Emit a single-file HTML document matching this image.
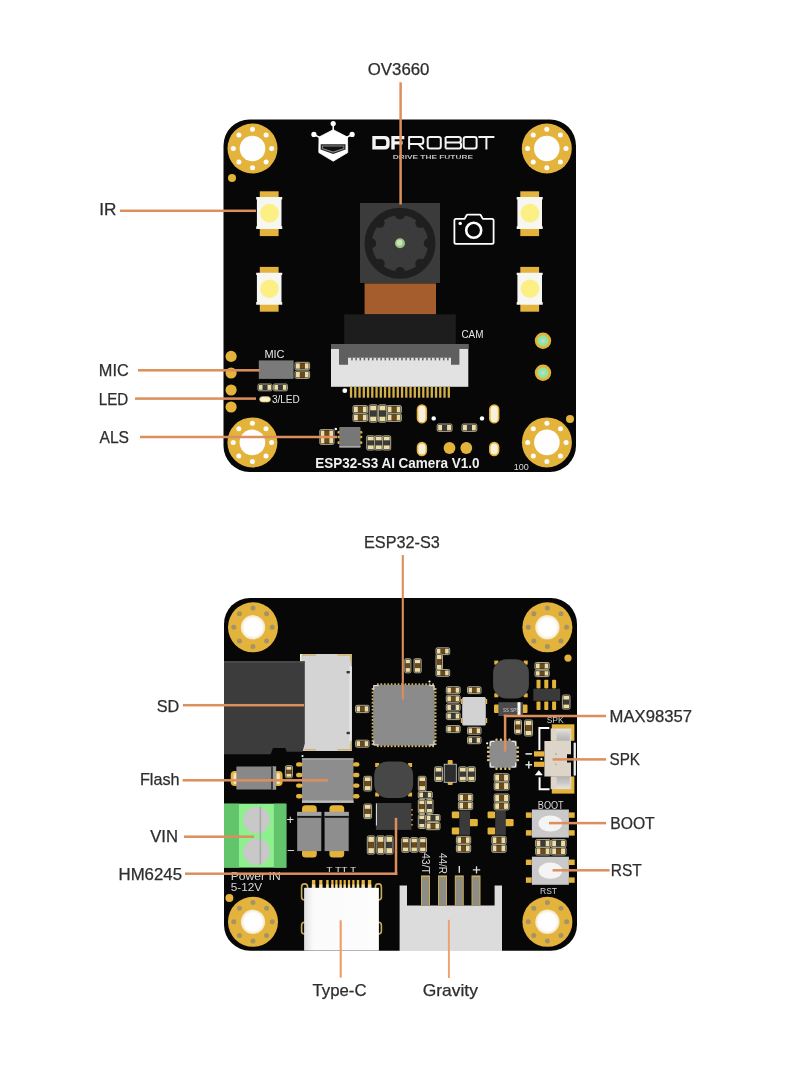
<!DOCTYPE html><html><head><meta charset="utf-8"><style>html,body{margin:0;padding:0;background:#fff;width:810px;height:1080px;overflow:hidden}svg{display:block;will-change:transform}</style></head><body>
<svg width="810" height="1080" viewBox="0 0 810 1080" font-family='"Liberation Sans", sans-serif'>
<defs><radialGradient id="holeg"><stop offset="0" stop-color="#ffffff"/><stop offset="0.72" stop-color="#fefefe"/><stop offset="1" stop-color="#f1e4c0"/></radialGradient></defs>
<rect width="810" height="1080" fill="#ffffff"/>
<rect x="223.5" y="119.5" width="352.5" height="352.4" rx="26" fill="#070707"/>
<circle cx="252.5" cy="148.5" r="25" fill="#e4b33c"/>
<circle cx="252.5" cy="148.5" r="12.8" fill="#fefefe"/>
<circle cx="252.50" cy="167.70" r="2.5" fill="#fdfdfd"/>
<circle cx="238.92" cy="162.08" r="2.5" fill="#fdfdfd"/>
<circle cx="233.30" cy="148.50" r="2.5" fill="#fdfdfd"/>
<circle cx="238.92" cy="134.92" r="2.5" fill="#fdfdfd"/>
<circle cx="252.50" cy="129.30" r="2.5" fill="#fdfdfd"/>
<circle cx="266.08" cy="134.92" r="2.5" fill="#fdfdfd"/>
<circle cx="271.70" cy="148.50" r="2.5" fill="#fdfdfd"/>
<circle cx="266.08" cy="162.08" r="2.5" fill="#fdfdfd"/>
<circle cx="546.8" cy="148.5" r="25" fill="#e4b33c"/>
<circle cx="546.8" cy="148.5" r="12.8" fill="#fefefe"/>
<circle cx="546.80" cy="167.70" r="2.5" fill="#fdfdfd"/>
<circle cx="533.22" cy="162.08" r="2.5" fill="#fdfdfd"/>
<circle cx="527.60" cy="148.50" r="2.5" fill="#fdfdfd"/>
<circle cx="533.22" cy="134.92" r="2.5" fill="#fdfdfd"/>
<circle cx="546.80" cy="129.30" r="2.5" fill="#fdfdfd"/>
<circle cx="560.38" cy="134.92" r="2.5" fill="#fdfdfd"/>
<circle cx="566.00" cy="148.50" r="2.5" fill="#fdfdfd"/>
<circle cx="560.38" cy="162.08" r="2.5" fill="#fdfdfd"/>
<circle cx="252.4" cy="442.4" r="25" fill="#e4b33c"/>
<circle cx="252.4" cy="442.4" r="12.8" fill="#fefefe"/>
<circle cx="252.40" cy="461.60" r="2.5" fill="#fdfdfd"/>
<circle cx="238.82" cy="455.98" r="2.5" fill="#fdfdfd"/>
<circle cx="233.20" cy="442.40" r="2.5" fill="#fdfdfd"/>
<circle cx="238.82" cy="428.82" r="2.5" fill="#fdfdfd"/>
<circle cx="252.40" cy="423.20" r="2.5" fill="#fdfdfd"/>
<circle cx="265.98" cy="428.82" r="2.5" fill="#fdfdfd"/>
<circle cx="271.60" cy="442.40" r="2.5" fill="#fdfdfd"/>
<circle cx="265.98" cy="455.98" r="2.5" fill="#fdfdfd"/>
<circle cx="546.9" cy="442.4" r="25" fill="#e4b33c"/>
<circle cx="546.9" cy="442.4" r="12.8" fill="#fefefe"/>
<circle cx="546.90" cy="461.60" r="2.5" fill="#fdfdfd"/>
<circle cx="533.32" cy="455.98" r="2.5" fill="#fdfdfd"/>
<circle cx="527.70" cy="442.40" r="2.5" fill="#fdfdfd"/>
<circle cx="533.32" cy="428.82" r="2.5" fill="#fdfdfd"/>
<circle cx="546.90" cy="423.20" r="2.5" fill="#fdfdfd"/>
<circle cx="560.48" cy="428.82" r="2.5" fill="#fdfdfd"/>
<circle cx="566.10" cy="442.40" r="2.5" fill="#fdfdfd"/>
<circle cx="560.48" cy="455.98" r="2.5" fill="#fdfdfd"/>
<circle cx="232" cy="178" r="4" fill="#e4b33c"/>
<circle cx="570" cy="419" r="4" fill="#e4b33c"/>
<circle cx="231.1" cy="356.4" r="5.6" fill="#e4b33c"/>
<circle cx="231.1" cy="373" r="5.6" fill="#e4b33c"/>
<circle cx="231.1" cy="390" r="5.6" fill="#e4b33c"/>
<circle cx="231.1" cy="407" r="5.6" fill="#e4b33c"/>
<g fill="#ffffff">
<circle cx="333.2" cy="123.6" r="2.6"/><circle cx="313.9" cy="134.4" r="2.6"/><circle cx="352.1" cy="134.4" r="2.6"/>
<rect x="332.45" y="124" width="1.5" height="7"/>
</g>
<path d="M313.9 134.4 L320.5 138 M352.1 134.4 L345.5 138" stroke="#fff" stroke-width="1.5"/>
<path d="M333.2 129.7 L347.5 137.1 L347.7 152.6 L333.2 161.2 L318.8 152.6 L319 137.1 Z" fill="#fff" stroke="#fff" stroke-width="0.8" stroke-linejoin="round"/>
<path d="M320.7 144.2 L345.5 144.2 L345.5 149.6 L333.2 154 L320.7 149.6 Z" fill="#222"/>
<path d="M321.9 145.4 L344.3 145.4 L344.3 148.9 L333.2 152.8 L321.9 148.9 Z" fill="#8a8a8a"/>
<path d="M322.9 146.4 L343.3 146.4 L343.3 148.3 L333.2 151.6 L322.9 148.3 Z" fill="#111"/>
<path fill-rule="evenodd" fill="#f4f4f4" d="M372.3 136 H384.6 Q389.6 136 389.6 141 V144.4 Q389.6 149.4 384.6 149.4 H372.3 Z M375.7 139.3 H384 Q386.2 139.3 386.2 141.5 V143.9 Q386.2 146.1 384 146.1 H375.7 Z"/>
<path fill="#f4f4f4" d="M391.3 136 H404.3 V139.3 H394.7 V141.3 H402.6 V144.4 H394.7 V149.4 H391.3 Z"/>
<g fill="none" stroke="#f4f4f4" stroke-width="2" stroke-linejoin="round">
<path d="M409.1 149.4 V136.9 H420.8 Q423.3 136.9 423.3 139.4 V141.4 Q423.3 143.9 420.8 143.9 H409.1 M418.2 143.9 L423.6 149.4"/>
<rect x="427.7" y="136.9" width="13.1" height="11.6" rx="2.2"/>
<path d="M445.6 136.9 H458.6 Q460.8 136.9 460.8 139.1 V140.6 Q460.8 142.6 458.8 142.6 H445.6 M445.6 142.6 H458.9 Q461.1 142.6 461.1 144.8 V146.3 Q461.1 148.5 458.9 148.5 H445.6 M445.6 136.9 V148.5"/>
<rect x="463.7" y="136.9" width="12.9" height="11.6" rx="2.2"/>
<path d="M478.4 136.9 H494.4 M486.4 136.9 V149.4"/>
</g>
<text x="392.7" y="158.7" font-size="6" font-weight="bold" fill="#bdbdbd" textLength="80.3" lengthAdjust="spacingAndGlyphs">DRIVE THE FUTURE</text>
<rect x="259.8" y="191.3" width="18.8" height="9" fill="#e4b33c"/>
<rect x="259.8" y="226.8" width="18.8" height="9.3" fill="#e4b33c"/>
<path d="M256.2 197.10000000000002 H282.2 V199.5 H281.5 V226.3 H282.2 V229.10000000000002 H256.2 V226.3 H256.9 V199.5 H256.2 Z" fill="#f6f6f2"/>
<circle cx="269.5" cy="213.10000000000002" r="9.3" fill="#fcef84"/>
<rect x="259.8" y="266.9" width="18.8" height="9" fill="#e4b33c"/>
<rect x="259.8" y="302.4" width="18.8" height="9.3" fill="#e4b33c"/>
<path d="M256.2 272.7 H282.2 V275.09999999999997 H281.5 V301.9 H282.2 V304.7 H256.2 V301.9 H256.9 V275.09999999999997 H256.2 Z" fill="#f6f6f2"/>
<circle cx="269.5" cy="288.7" r="9.3" fill="#fcef84"/>
<rect x="520.3000000000001" y="191.3" width="18.8" height="9" fill="#e4b33c"/>
<rect x="520.3000000000001" y="226.8" width="18.8" height="9.3" fill="#e4b33c"/>
<path d="M516.7 197.10000000000002 H542.7 V199.5 H542.0 V226.3 H542.7 V229.10000000000002 H516.7 V226.3 H517.4000000000001 V199.5 H516.7 Z" fill="#f6f6f2"/>
<circle cx="530.0" cy="213.10000000000002" r="9.3" fill="#fcef84"/>
<rect x="520.3000000000001" y="266.9" width="18.8" height="9" fill="#e4b33c"/>
<rect x="520.3000000000001" y="302.4" width="18.8" height="9.3" fill="#e4b33c"/>
<path d="M516.7 272.7 H542.7 V275.09999999999997 H542.0 V301.9 H542.7 V304.7 H516.7 V301.9 H517.4000000000001 V275.09999999999997 H516.7 Z" fill="#f6f6f2"/>
<circle cx="530.0" cy="288.7" r="9.3" fill="#fcef84"/>
<g fill="none" stroke="#ffffff" stroke-width="1.8" stroke-linejoin="round">
<path d="M456 218.9 H464.6 L466.6 215.3 Q467 214.6 467.8 214.6 H479.6 Q480.4 214.6 480.8 215.3 L482.8 218.9 H492 Q493.6 218.9 493.6 220.5 V242.2 Q493.6 243.8 492 243.8 H456 Q454.4 243.8 454.4 242.2 V220.5 Q454.4 218.9 456 218.9 Z"/>
<circle cx="473.7" cy="230.3" r="7.5" stroke-width="2.6"/>
</g>
<circle cx="460.2" cy="223.4" r="1.7" fill="#fff"/>
<rect x="360" y="203" width="80" height="80" fill="#3b3b3b"/>
<circle cx="400" cy="243.3" r="31.8" fill="none" stroke="#1f1f1f" stroke-width="7.4"/>
<circle cx="400.00" cy="214.50" r="5" fill="#1f1f1f"/>
<circle cx="420.36" cy="222.94" r="5" fill="#1f1f1f"/>
<circle cx="428.80" cy="243.30" r="5" fill="#1f1f1f"/>
<circle cx="420.36" cy="263.66" r="5" fill="#1f1f1f"/>
<circle cx="400.00" cy="272.10" r="5" fill="#1f1f1f"/>
<circle cx="379.64" cy="263.66" r="5" fill="#1f1f1f"/>
<circle cx="371.20" cy="243.30" r="5" fill="#1f1f1f"/>
<circle cx="379.64" cy="222.94" r="5" fill="#1f1f1f"/>
<circle cx="400" cy="243.3" r="5" fill="#9bc08a"/><circle cx="399.5" cy="242.8" r="3" fill="#c9e6b0"/>
<rect x="364.6" y="283.4" width="71.4" height="31" fill="#a65d2d"/>
<rect x="344.2" y="314.4" width="111.6" height="29.8" fill="#1d1d1d"/>
<rect x="331" y="344" width="137.3" height="42.8" fill="#e2e2e2"/>
<rect x="331" y="344" width="137.3" height="5" fill="#5f5f5f"/>
<path d="M339 349 H459.4 V364.8 H451 V357.8 H348 V364.8 H339 Z" fill="#5f5f5f"/>
<rect x="351.20" y="357.6" width="1.5" height="2.8" fill="#5f5f5f"/>
<rect x="355.37" y="357.6" width="1.5" height="2.8" fill="#5f5f5f"/>
<rect x="359.54" y="357.6" width="1.5" height="2.8" fill="#5f5f5f"/>
<rect x="363.71" y="357.6" width="1.5" height="2.8" fill="#5f5f5f"/>
<rect x="367.88" y="357.6" width="1.5" height="2.8" fill="#5f5f5f"/>
<rect x="372.05" y="357.6" width="1.5" height="2.8" fill="#5f5f5f"/>
<rect x="376.22" y="357.6" width="1.5" height="2.8" fill="#5f5f5f"/>
<rect x="380.39" y="357.6" width="1.5" height="2.8" fill="#5f5f5f"/>
<rect x="384.56" y="357.6" width="1.5" height="2.8" fill="#5f5f5f"/>
<rect x="388.73" y="357.6" width="1.5" height="2.8" fill="#5f5f5f"/>
<rect x="392.90" y="357.6" width="1.5" height="2.8" fill="#5f5f5f"/>
<rect x="397.07" y="357.6" width="1.5" height="2.8" fill="#5f5f5f"/>
<rect x="401.24" y="357.6" width="1.5" height="2.8" fill="#5f5f5f"/>
<rect x="405.41" y="357.6" width="1.5" height="2.8" fill="#5f5f5f"/>
<rect x="409.58" y="357.6" width="1.5" height="2.8" fill="#5f5f5f"/>
<rect x="413.75" y="357.6" width="1.5" height="2.8" fill="#5f5f5f"/>
<rect x="417.92" y="357.6" width="1.5" height="2.8" fill="#5f5f5f"/>
<rect x="422.09" y="357.6" width="1.5" height="2.8" fill="#5f5f5f"/>
<rect x="426.26" y="357.6" width="1.5" height="2.8" fill="#5f5f5f"/>
<rect x="430.43" y="357.6" width="1.5" height="2.8" fill="#5f5f5f"/>
<rect x="434.60" y="357.6" width="1.5" height="2.8" fill="#5f5f5f"/>
<rect x="438.77" y="357.6" width="1.5" height="2.8" fill="#5f5f5f"/>
<rect x="442.94" y="357.6" width="1.5" height="2.8" fill="#5f5f5f"/>
<rect x="447.11" y="357.6" width="1.5" height="2.8" fill="#5f5f5f"/>
<text x="461.4" y="338" font-size="10.5" fill="#e6e6e6" textLength="22" lengthAdjust="spacingAndGlyphs">CAM</text>
<rect x="349.90" y="386.8" width="2.3" height="10.9" fill="#d3b048"/>
<rect x="354.15" y="386.8" width="2.3" height="10.9" fill="#d3b048"/>
<rect x="358.40" y="386.8" width="2.3" height="10.9" fill="#d3b048"/>
<rect x="362.65" y="386.8" width="2.3" height="10.9" fill="#d3b048"/>
<rect x="366.90" y="386.8" width="2.3" height="10.9" fill="#d3b048"/>
<rect x="371.15" y="386.8" width="2.3" height="10.9" fill="#d3b048"/>
<rect x="375.40" y="386.8" width="2.3" height="10.9" fill="#d3b048"/>
<rect x="379.65" y="386.8" width="2.3" height="10.9" fill="#d3b048"/>
<rect x="383.90" y="386.8" width="2.3" height="10.9" fill="#d3b048"/>
<rect x="388.15" y="386.8" width="2.3" height="10.9" fill="#d3b048"/>
<rect x="392.40" y="386.8" width="2.3" height="10.9" fill="#d3b048"/>
<rect x="396.65" y="386.8" width="2.3" height="10.9" fill="#d3b048"/>
<rect x="400.90" y="386.8" width="2.3" height="10.9" fill="#d3b048"/>
<rect x="405.15" y="386.8" width="2.3" height="10.9" fill="#d3b048"/>
<rect x="409.40" y="386.8" width="2.3" height="10.9" fill="#d3b048"/>
<rect x="413.65" y="386.8" width="2.3" height="10.9" fill="#d3b048"/>
<rect x="417.90" y="386.8" width="2.3" height="10.9" fill="#d3b048"/>
<rect x="422.15" y="386.8" width="2.3" height="10.9" fill="#d3b048"/>
<rect x="426.40" y="386.8" width="2.3" height="10.9" fill="#d3b048"/>
<rect x="430.65" y="386.8" width="2.3" height="10.9" fill="#d3b048"/>
<rect x="434.90" y="386.8" width="2.3" height="10.9" fill="#d3b048"/>
<rect x="439.15" y="386.8" width="2.3" height="10.9" fill="#d3b048"/>
<rect x="443.40" y="386.8" width="2.3" height="10.9" fill="#d3b048"/>
<rect x="447.65" y="386.8" width="2.3" height="10.9" fill="#d3b048"/>
<circle cx="344.8" cy="390.7" r="2.4" fill="#fff"/>
<text x="264.4" y="357.5" font-size="11" fill="#e6e6e6">MIC</text>
<rect x="258.8" y="360.4" width="34.8" height="18.5" fill="#7a7a7a"/>
<rect x="295" y="362.3" width="14.6" height="7.4" rx="1.3" fill="#2a2416" stroke="#aaa58f" stroke-width="1"/>
<rect x="296" y="363.3" width="3.9059999999999997" height="5.4" fill="#ecdca6"/><rect x="304.694" y="363.3" width="3.9059999999999997" height="5.4" fill="#ecdca6"/>
<rect x="299.906" y="363.3" width="4.788" height="5.4" fill="#6b4a1e"/>
<rect x="295" y="371.0" width="14.6" height="7.4" rx="1.3" fill="#2a2416" stroke="#aaa58f" stroke-width="1"/>
<rect x="296" y="372.0" width="3.9059999999999997" height="5.4" fill="#ecdca6"/><rect x="304.694" y="372.0" width="3.9059999999999997" height="5.4" fill="#ecdca6"/>
<rect x="299.906" y="372.0" width="4.788" height="5.4" fill="#6b4a1e"/>
<rect x="258" y="384" width="14" height="6.8" rx="1.3" fill="#2a2416" stroke="#aaa58f" stroke-width="1"/>
<rect x="259" y="385" width="3.7199999999999998" height="4.8" fill="#ecdca6"/><rect x="267.28" y="385" width="3.7199999999999998" height="4.8" fill="#ecdca6"/>
<rect x="262.72" y="385" width="4.5600000000000005" height="4.8" fill="#3a3a3a"/>
<rect x="273.4" y="384" width="14" height="6.8" rx="1.3" fill="#2a2416" stroke="#aaa58f" stroke-width="1"/>
<rect x="274.4" y="385" width="3.7199999999999998" height="4.8" fill="#ecdca6"/><rect x="282.67999999999995" y="385" width="3.7199999999999998" height="4.8" fill="#ecdca6"/>
<rect x="278.12" y="385" width="4.5600000000000005" height="4.8" fill="#3a3a3a"/>
<rect x="259.7" y="396.7" width="10.7" height="5.2" rx="2.6" fill="#f5f0d8" stroke="#e6c45a" stroke-width="0.8"/>
<text x="271.9" y="402.6" font-size="10" fill="#e6e6e6">3/LED</text>
<rect x="353" y="405.6" width="14.6" height="7.6" rx="1.3" fill="#2a2416" stroke="#aaa58f" stroke-width="1"/>
<rect x="354" y="406.6" width="3.9059999999999997" height="5.6" fill="#ecdca6"/><rect x="362.694" y="406.6" width="3.9059999999999997" height="5.6" fill="#ecdca6"/>
<rect x="357.906" y="406.6" width="4.788" height="5.6" fill="#6b4a1e"/>
<rect x="353" y="413.8" width="14.6" height="7.6" rx="1.3" fill="#2a2416" stroke="#aaa58f" stroke-width="1"/>
<rect x="354" y="414.8" width="3.9059999999999997" height="5.6" fill="#ecdca6"/><rect x="362.694" y="414.8" width="3.9059999999999997" height="5.6" fill="#ecdca6"/>
<rect x="357.906" y="414.8" width="4.788" height="5.6" fill="#6b4a1e"/>
<rect x="369.2" y="404.8" width="8" height="17.4" rx="1.3" fill="#2a2416" stroke="#aaa58f" stroke-width="1"/>
<rect x="370.2" y="405.8" width="6" height="4.773999999999999" fill="#ecdca6"/><rect x="370.2" y="416.426" width="6" height="4.773999999999999" fill="#ecdca6"/>
<rect x="370.2" y="410.574" width="6" height="5.852" fill="#3a3a3a"/>
<rect x="378.4" y="404.8" width="8" height="17.4" rx="1.3" fill="#2a2416" stroke="#aaa58f" stroke-width="1"/>
<rect x="379.4" y="405.8" width="6" height="4.773999999999999" fill="#ecdca6"/><rect x="379.4" y="416.426" width="6" height="4.773999999999999" fill="#ecdca6"/>
<rect x="379.4" y="410.574" width="6" height="5.852" fill="#3a3a3a"/>
<rect x="386.8" y="405.6" width="14.6" height="7.6" rx="1.3" fill="#2a2416" stroke="#aaa58f" stroke-width="1"/>
<rect x="387.8" y="406.6" width="3.9059999999999997" height="5.6" fill="#ecdca6"/><rect x="396.494" y="406.6" width="3.9059999999999997" height="5.6" fill="#ecdca6"/>
<rect x="391.706" y="406.6" width="4.788" height="5.6" fill="#6b4a1e"/>
<rect x="386.8" y="413.8" width="14.6" height="7.6" rx="1.3" fill="#2a2416" stroke="#aaa58f" stroke-width="1"/>
<rect x="387.8" y="414.8" width="3.9059999999999997" height="5.6" fill="#ecdca6"/><rect x="396.494" y="414.8" width="3.9059999999999997" height="5.6" fill="#ecdca6"/>
<rect x="391.706" y="414.8" width="4.788" height="5.6" fill="#6b4a1e"/>
<rect x="337.4" y="431.0" width="3.5" height="2.6" rx="1.2" fill="#e4b33c"/><rect x="358.9" y="431.0" width="3.5" height="2.6" rx="1.2" fill="#e4b33c"/>
<rect x="337.4" y="435.7" width="3.5" height="2.6" rx="1.2" fill="#e4b33c"/><rect x="358.9" y="435.7" width="3.5" height="2.6" rx="1.2" fill="#e4b33c"/>
<rect x="337.4" y="441.3" width="3.5" height="2.6" rx="1.2" fill="#e4b33c"/><rect x="358.9" y="441.3" width="3.5" height="2.6" rx="1.2" fill="#e4b33c"/>
<rect x="339.3" y="426.9" width="21.2" height="20.6" rx="0.8" fill="#777777"/>
<rect x="339.3" y="446" width="21.2" height="1.5" fill="#aaaaaa"/>
<circle cx="335.8" cy="429" r="1.3" fill="#fff"/>
<rect x="319.8" y="429.6" width="14.2" height="7.4" rx="1.3" fill="#2a2416" stroke="#aaa58f" stroke-width="1"/>
<rect x="320.8" y="430.6" width="3.7819999999999996" height="5.4" fill="#ecdca6"/><rect x="329.218" y="430.6" width="3.7819999999999996" height="5.4" fill="#ecdca6"/>
<rect x="324.582" y="430.6" width="4.636" height="5.4" fill="#6b4a1e"/>
<rect x="319.8" y="437" width="14.2" height="7.4" rx="1.3" fill="#2a2416" stroke="#aaa58f" stroke-width="1"/>
<rect x="320.8" y="438" width="3.7819999999999996" height="5.4" fill="#ecdca6"/><rect x="329.218" y="438" width="3.7819999999999996" height="5.4" fill="#ecdca6"/>
<rect x="324.582" y="438" width="4.636" height="5.4" fill="#6b4a1e"/>
<rect x="366.7" y="435.8" width="8" height="14.2" rx="1.3" fill="#2a2416" stroke="#aaa58f" stroke-width="1"/>
<rect x="367.7" y="436.8" width="6" height="3.7819999999999996" fill="#ecdca6"/><rect x="367.7" y="445.218" width="6" height="3.7819999999999996" fill="#ecdca6"/>
<rect x="367.7" y="440.582" width="6" height="4.636" fill="#3a3a3a"/>
<rect x="374.7" y="435.8" width="8" height="14.2" rx="1.3" fill="#2a2416" stroke="#aaa58f" stroke-width="1"/>
<rect x="375.7" y="436.8" width="6" height="3.7819999999999996" fill="#ecdca6"/><rect x="375.7" y="445.218" width="6" height="3.7819999999999996" fill="#ecdca6"/>
<rect x="375.7" y="440.582" width="6" height="4.636" fill="#3a3a3a"/>
<rect x="382.7" y="435.8" width="8" height="14.2" rx="1.3" fill="#2a2416" stroke="#aaa58f" stroke-width="1"/>
<rect x="383.7" y="436.8" width="6" height="3.7819999999999996" fill="#ecdca6"/><rect x="383.7" y="445.218" width="6" height="3.7819999999999996" fill="#ecdca6"/>
<rect x="383.7" y="440.582" width="6" height="4.636" fill="#3a3a3a"/>
<rect x="417.5" y="405.0" width="8.8" height="17.8" rx="4.4" fill="#f7f1dc" stroke="#e4b33c" stroke-width="1.6"/>
<rect x="489.8" y="405.0" width="8.8" height="17.8" rx="4.4" fill="#f7f1dc" stroke="#e4b33c" stroke-width="1.6"/>
<rect x="417.5" y="442.6" width="8.8" height="12.8" rx="4.4" fill="#f7f1dc" stroke="#e4b33c" stroke-width="1.6"/>
<rect x="489.8" y="442.6" width="8.8" height="12.8" rx="4.4" fill="#f7f1dc" stroke="#e4b33c" stroke-width="1.6"/>
<circle cx="433.7" cy="418.4" r="2.2" fill="#fff"/>
<circle cx="482" cy="418.4" r="2.2" fill="#fff"/>
<rect x="437.2" y="424" width="14.8" height="7.4" rx="1.3" fill="#2a2416" stroke="#aaa58f" stroke-width="1"/>
<rect x="438.2" y="425" width="3.968" height="5.4" fill="#ecdca6"/><rect x="447.032" y="425" width="3.968" height="5.4" fill="#ecdca6"/>
<rect x="442.168" y="425" width="4.864000000000001" height="5.4" fill="#3a3a3a"/>
<rect x="462" y="424" width="14.8" height="7.4" rx="1.3" fill="#2a2416" stroke="#aaa58f" stroke-width="1"/>
<rect x="463" y="425" width="3.968" height="5.4" fill="#ecdca6"/><rect x="471.832" y="425" width="3.968" height="5.4" fill="#ecdca6"/>
<rect x="466.968" y="425" width="4.864000000000001" height="5.4" fill="#3a3a3a"/>
<circle cx="449.5" cy="448" r="5.9" fill="#e4b33c"/>
<circle cx="466.3" cy="448" r="5.9" fill="#e4b33c"/>
<circle cx="543" cy="340.7" r="8.2" fill="#e4b33c"/><circle cx="543" cy="340.7" r="5.4" fill="#8ee6a4"/><circle cx="543" cy="340.7" r="2" fill="#c8d8c8"/>
<circle cx="543" cy="372.8" r="8.2" fill="#e4b33c"/><circle cx="543" cy="372.8" r="5.4" fill="#8ee6a4"/><circle cx="543" cy="372.8" r="2" fill="#c8d8c8"/>
<text x="315.2" y="468" font-size="13.8" font-weight="bold" fill="#f0f0f0" textLength="164.4" lengthAdjust="spacingAndGlyphs">ESP32-S3 AI Camera V1.0</text>
<text x="513.7" y="469.5" font-size="9" fill="#d8d8d8">100</text>
<text x="398.6" y="75.2" font-size="15.9" fill="#2e2e2e" stroke="#2e2e2e" stroke-width="0.25" text-anchor="middle" textLength="61.6" lengthAdjust="spacingAndGlyphs">OV3660</text>
<rect x="399.35" y="82.3" width="2.5" height="122.2" fill="#dc8f5c"/>
<text x="99.2" y="215" font-size="15.9" fill="#2e2e2e" stroke="#2e2e2e" stroke-width="0.25" text-anchor="start" textLength="17.2" lengthAdjust="spacingAndGlyphs">IR</text>
<rect x="120" y="209.55" width="136" height="2.5" fill="#dc8f5c"/>
<text x="98.8" y="376.4" font-size="15.9" fill="#2e2e2e" stroke="#2e2e2e" stroke-width="0.25" text-anchor="start" textLength="30" lengthAdjust="spacingAndGlyphs">MIC</text>
<rect x="138" y="369.05" width="121.5" height="2.5" fill="#dc8f5c"/>
<text x="98.8" y="405.2" font-size="15.9" fill="#2e2e2e" stroke="#2e2e2e" stroke-width="0.25" text-anchor="start" textLength="29.5" lengthAdjust="spacingAndGlyphs">LED</text>
<rect x="135" y="397.35" width="121" height="2.5" fill="#dc8f5c"/>
<text x="99.5" y="443.4" font-size="15.9" fill="#2e2e2e" stroke="#2e2e2e" stroke-width="0.25" text-anchor="start" textLength="29.5" lengthAdjust="spacingAndGlyphs">ALS</text>
<rect x="140" y="435.75" width="197" height="2.5" fill="#dc8f5c"/>
<rect x="224" y="598" width="353" height="352.7" rx="26" fill="#070707"/>
<circle cx="253" cy="627.3" r="25" fill="#e4b33c"/>
<circle cx="253" cy="627.3" r="12.2" fill="url(#holeg)"/>
<circle cx="253.00" cy="646.50" r="2.5" fill="#a39366"/>
<circle cx="239.42" cy="640.88" r="2.5" fill="#a39366"/>
<circle cx="233.80" cy="627.30" r="2.5" fill="#a39366"/>
<circle cx="239.42" cy="613.72" r="2.5" fill="#a39366"/>
<circle cx="253.00" cy="608.10" r="2.5" fill="#a39366"/>
<circle cx="266.58" cy="613.72" r="2.5" fill="#a39366"/>
<circle cx="272.20" cy="627.30" r="2.5" fill="#a39366"/>
<circle cx="266.58" cy="640.88" r="2.5" fill="#a39366"/>
<circle cx="547.4" cy="627.3" r="25" fill="#e4b33c"/>
<circle cx="547.4" cy="627.3" r="12.2" fill="url(#holeg)"/>
<circle cx="547.40" cy="646.50" r="2.5" fill="#a39366"/>
<circle cx="533.82" cy="640.88" r="2.5" fill="#a39366"/>
<circle cx="528.20" cy="627.30" r="2.5" fill="#a39366"/>
<circle cx="533.82" cy="613.72" r="2.5" fill="#a39366"/>
<circle cx="547.40" cy="608.10" r="2.5" fill="#a39366"/>
<circle cx="560.98" cy="613.72" r="2.5" fill="#a39366"/>
<circle cx="566.60" cy="627.30" r="2.5" fill="#a39366"/>
<circle cx="560.98" cy="640.88" r="2.5" fill="#a39366"/>
<circle cx="253" cy="921.8" r="25" fill="#e4b33c"/>
<circle cx="253" cy="921.8" r="12.2" fill="url(#holeg)"/>
<circle cx="253.00" cy="941.00" r="2.5" fill="#a39366"/>
<circle cx="239.42" cy="935.38" r="2.5" fill="#a39366"/>
<circle cx="233.80" cy="921.80" r="2.5" fill="#a39366"/>
<circle cx="239.42" cy="908.22" r="2.5" fill="#a39366"/>
<circle cx="253.00" cy="902.60" r="2.5" fill="#a39366"/>
<circle cx="266.58" cy="908.22" r="2.5" fill="#a39366"/>
<circle cx="272.20" cy="921.80" r="2.5" fill="#a39366"/>
<circle cx="266.58" cy="935.38" r="2.5" fill="#a39366"/>
<circle cx="547.4" cy="921.8" r="25" fill="#e4b33c"/>
<circle cx="547.4" cy="921.8" r="12.2" fill="url(#holeg)"/>
<circle cx="547.40" cy="941.00" r="2.5" fill="#a39366"/>
<circle cx="533.82" cy="935.38" r="2.5" fill="#a39366"/>
<circle cx="528.20" cy="921.80" r="2.5" fill="#a39366"/>
<circle cx="533.82" cy="908.22" r="2.5" fill="#a39366"/>
<circle cx="547.40" cy="902.60" r="2.5" fill="#a39366"/>
<circle cx="560.98" cy="908.22" r="2.5" fill="#a39366"/>
<circle cx="566.60" cy="921.80" r="2.5" fill="#a39366"/>
<circle cx="560.98" cy="935.38" r="2.5" fill="#a39366"/>
<circle cx="568" cy="658.1" r="3.6" fill="#e4b33c"/>
<circle cx="229.4" cy="898" r="4" fill="#e4b33c"/>
<rect x="300.1" y="654" width="51.7" height="97" fill="#d4d4d4"/>
<path d="M301.5 660 V655 H316 M337.5 655 H351 V662 M304.5 749.8 H316 M337.5 749.8 H351 V743" fill="none" stroke="#cdb46a" stroke-width="1.6"/>
<rect x="300.1" y="654" width="1.6" height="7" fill="#f5f5f5"/>
<rect x="349.4" y="666.3" width="2.4" height="74.5" fill="#e6e6e6"/>
<rect x="346.6" y="671" width="3.2" height="2.4" fill="#333"/><rect x="346.6" y="731.8" width="3.2" height="2.4" fill="#333"/>
<path d="M224 661.3 H304.8 V743.5 L302.5 751.8 H286.7 L285.4 748 H273 L270.6 754.3 H224 Z" fill="#3c3c3c"/>
<rect x="224" y="661.3" width="80.8" height="1.2" fill="#555"/>
<rect x="355.6" y="705.3" width="13.4" height="7.3" rx="1.3" fill="#2a2416" stroke="#aaa58f" stroke-width="1"/>
<rect x="356.6" y="706.3" width="3.5340000000000003" height="5.3" fill="#ecdca6"/><rect x="364.466" y="706.3" width="3.5340000000000003" height="5.3" fill="#ecdca6"/>
<rect x="360.134" y="706.3" width="4.332" height="5.3" fill="#6b4a1e"/>
<rect x="355.6" y="740.2" width="13.4" height="7.0" rx="1.3" fill="#2a2416" stroke="#aaa58f" stroke-width="1"/>
<rect x="356.6" y="741.2" width="3.5340000000000003" height="5.0" fill="#ecdca6"/><rect x="364.466" y="741.2" width="3.5340000000000003" height="5.0" fill="#ecdca6"/>
<rect x="360.134" y="741.2" width="4.332" height="5.0" fill="#6b4a1e"/>
<rect x="376.90" y="683.2" width="1.9" height="2.6" rx="0.7" fill="#cfb25a"/><rect x="376.90" y="744.6" width="1.9" height="2.6" rx="0.7" fill="#cfb25a"/>
<rect x="371.6" y="688.00" width="2.6" height="1.9" rx="0.7" fill="#cfb25a"/><rect x="434" y="688.00" width="2.6" height="1.9" rx="0.7" fill="#cfb25a"/>
<rect x="380.35" y="683.2" width="1.9" height="2.6" rx="0.7" fill="#cfb25a"/><rect x="380.35" y="744.6" width="1.9" height="2.6" rx="0.7" fill="#cfb25a"/>
<rect x="371.6" y="691.45" width="2.6" height="1.9" rx="0.7" fill="#cfb25a"/><rect x="434" y="691.45" width="2.6" height="1.9" rx="0.7" fill="#cfb25a"/>
<rect x="383.80" y="683.2" width="1.9" height="2.6" rx="0.7" fill="#cfb25a"/><rect x="383.80" y="744.6" width="1.9" height="2.6" rx="0.7" fill="#cfb25a"/>
<rect x="371.6" y="694.90" width="2.6" height="1.9" rx="0.7" fill="#cfb25a"/><rect x="434" y="694.90" width="2.6" height="1.9" rx="0.7" fill="#cfb25a"/>
<rect x="387.25" y="683.2" width="1.9" height="2.6" rx="0.7" fill="#cfb25a"/><rect x="387.25" y="744.6" width="1.9" height="2.6" rx="0.7" fill="#cfb25a"/>
<rect x="371.6" y="698.35" width="2.6" height="1.9" rx="0.7" fill="#cfb25a"/><rect x="434" y="698.35" width="2.6" height="1.9" rx="0.7" fill="#cfb25a"/>
<rect x="390.70" y="683.2" width="1.9" height="2.6" rx="0.7" fill="#cfb25a"/><rect x="390.70" y="744.6" width="1.9" height="2.6" rx="0.7" fill="#cfb25a"/>
<rect x="371.6" y="701.80" width="2.6" height="1.9" rx="0.7" fill="#cfb25a"/><rect x="434" y="701.80" width="2.6" height="1.9" rx="0.7" fill="#cfb25a"/>
<rect x="394.15" y="683.2" width="1.9" height="2.6" rx="0.7" fill="#cfb25a"/><rect x="394.15" y="744.6" width="1.9" height="2.6" rx="0.7" fill="#cfb25a"/>
<rect x="371.6" y="705.25" width="2.6" height="1.9" rx="0.7" fill="#cfb25a"/><rect x="434" y="705.25" width="2.6" height="1.9" rx="0.7" fill="#cfb25a"/>
<rect x="397.60" y="683.2" width="1.9" height="2.6" rx="0.7" fill="#cfb25a"/><rect x="397.60" y="744.6" width="1.9" height="2.6" rx="0.7" fill="#cfb25a"/>
<rect x="371.6" y="708.70" width="2.6" height="1.9" rx="0.7" fill="#cfb25a"/><rect x="434" y="708.70" width="2.6" height="1.9" rx="0.7" fill="#cfb25a"/>
<rect x="401.05" y="683.2" width="1.9" height="2.6" rx="0.7" fill="#cfb25a"/><rect x="401.05" y="744.6" width="1.9" height="2.6" rx="0.7" fill="#cfb25a"/>
<rect x="371.6" y="712.15" width="2.6" height="1.9" rx="0.7" fill="#cfb25a"/><rect x="434" y="712.15" width="2.6" height="1.9" rx="0.7" fill="#cfb25a"/>
<rect x="404.50" y="683.2" width="1.9" height="2.6" rx="0.7" fill="#cfb25a"/><rect x="404.50" y="744.6" width="1.9" height="2.6" rx="0.7" fill="#cfb25a"/>
<rect x="371.6" y="715.60" width="2.6" height="1.9" rx="0.7" fill="#cfb25a"/><rect x="434" y="715.60" width="2.6" height="1.9" rx="0.7" fill="#cfb25a"/>
<rect x="407.95" y="683.2" width="1.9" height="2.6" rx="0.7" fill="#cfb25a"/><rect x="407.95" y="744.6" width="1.9" height="2.6" rx="0.7" fill="#cfb25a"/>
<rect x="371.6" y="719.05" width="2.6" height="1.9" rx="0.7" fill="#cfb25a"/><rect x="434" y="719.05" width="2.6" height="1.9" rx="0.7" fill="#cfb25a"/>
<rect x="411.40" y="683.2" width="1.9" height="2.6" rx="0.7" fill="#cfb25a"/><rect x="411.40" y="744.6" width="1.9" height="2.6" rx="0.7" fill="#cfb25a"/>
<rect x="371.6" y="722.50" width="2.6" height="1.9" rx="0.7" fill="#cfb25a"/><rect x="434" y="722.50" width="2.6" height="1.9" rx="0.7" fill="#cfb25a"/>
<rect x="414.85" y="683.2" width="1.9" height="2.6" rx="0.7" fill="#cfb25a"/><rect x="414.85" y="744.6" width="1.9" height="2.6" rx="0.7" fill="#cfb25a"/>
<rect x="371.6" y="725.95" width="2.6" height="1.9" rx="0.7" fill="#cfb25a"/><rect x="434" y="725.95" width="2.6" height="1.9" rx="0.7" fill="#cfb25a"/>
<rect x="418.30" y="683.2" width="1.9" height="2.6" rx="0.7" fill="#cfb25a"/><rect x="418.30" y="744.6" width="1.9" height="2.6" rx="0.7" fill="#cfb25a"/>
<rect x="371.6" y="729.40" width="2.6" height="1.9" rx="0.7" fill="#cfb25a"/><rect x="434" y="729.40" width="2.6" height="1.9" rx="0.7" fill="#cfb25a"/>
<rect x="421.75" y="683.2" width="1.9" height="2.6" rx="0.7" fill="#cfb25a"/><rect x="421.75" y="744.6" width="1.9" height="2.6" rx="0.7" fill="#cfb25a"/>
<rect x="371.6" y="732.85" width="2.6" height="1.9" rx="0.7" fill="#cfb25a"/><rect x="434" y="732.85" width="2.6" height="1.9" rx="0.7" fill="#cfb25a"/>
<rect x="425.20" y="683.2" width="1.9" height="2.6" rx="0.7" fill="#cfb25a"/><rect x="425.20" y="744.6" width="1.9" height="2.6" rx="0.7" fill="#cfb25a"/>
<rect x="371.6" y="736.30" width="2.6" height="1.9" rx="0.7" fill="#cfb25a"/><rect x="434" y="736.30" width="2.6" height="1.9" rx="0.7" fill="#cfb25a"/>
<rect x="428.65" y="683.2" width="1.9" height="2.6" rx="0.7" fill="#cfb25a"/><rect x="428.65" y="744.6" width="1.9" height="2.6" rx="0.7" fill="#cfb25a"/>
<rect x="371.6" y="739.75" width="2.6" height="1.9" rx="0.7" fill="#cfb25a"/><rect x="434" y="739.75" width="2.6" height="1.9" rx="0.7" fill="#cfb25a"/>
<rect x="432.10" y="683.2" width="1.9" height="2.6" rx="0.7" fill="#cfb25a"/><rect x="432.10" y="744.6" width="1.9" height="2.6" rx="0.7" fill="#cfb25a"/>
<rect x="371.6" y="743.20" width="2.6" height="1.9" rx="0.7" fill="#cfb25a"/><rect x="434" y="743.20" width="2.6" height="1.9" rx="0.7" fill="#cfb25a"/>
<rect x="373.2" y="685" width="61.4" height="60.4" fill="#8b8b8b"/>
<path d="M373.8 690 V685.6 H378.5 M434 690 V685.6 H429.5 M373.8 740.6 V745 H378.5 M434 740.6 V745 H429.5" fill="none" stroke="#e8e8e8" stroke-width="1"/>
<circle cx="429.5" cy="681.5" r="1.1" fill="#fff"/>
<rect x="404.8" y="658.7" width="6.1" height="14.1" rx="1.3" fill="#2a2416" stroke="#aaa58f" stroke-width="1"/>
<rect x="405.8" y="659.7" width="4.1" height="3.751" fill="#ecdca6"/><rect x="405.8" y="668.0490000000001" width="4.1" height="3.751" fill="#ecdca6"/>
<rect x="405.8" y="663.451" width="4.1" height="4.598" fill="#6b4a1e"/>
<rect x="414" y="658.7" width="7.2" height="14.1" rx="1.3" fill="#2a2416" stroke="#aaa58f" stroke-width="1"/>
<rect x="415" y="659.7" width="5.2" height="3.751" fill="#ecdca6"/><rect x="415" y="668.0490000000001" width="5.2" height="3.751" fill="#ecdca6"/>
<rect x="415" y="663.451" width="5.2" height="4.598" fill="#6b4a1e"/>
<rect x="436" y="647.8" width="13.7" height="6.8" rx="1.3" fill="#2a2416" stroke="#aaa58f" stroke-width="1"/>
<rect x="437" y="648.8" width="3.627" height="4.8" fill="#ecdca6"/><rect x="445.073" y="648.8" width="3.627" height="4.8" fill="#ecdca6"/>
<rect x="440.627" y="648.8" width="4.446" height="4.8" fill="#6b4a1e"/>
<rect x="436" y="654" width="6.5" height="16" rx="1.3" fill="#2a2416" stroke="#aaa58f" stroke-width="1"/>
<rect x="437" y="655" width="4.5" height="4.34" fill="#ecdca6"/><rect x="437" y="664.66" width="4.5" height="4.34" fill="#ecdca6"/>
<rect x="437" y="659.34" width="4.5" height="5.32" fill="#6b4a1e"/>
<rect x="436" y="669.5" width="13.7" height="6.8" rx="1.3" fill="#2a2416" stroke="#aaa58f" stroke-width="1"/>
<rect x="437" y="670.5" width="3.627" height="4.8" fill="#ecdca6"/><rect x="445.073" y="670.5" width="3.627" height="4.8" fill="#ecdca6"/>
<rect x="440.627" y="670.5" width="4.446" height="4.8" fill="#6b4a1e"/>
<rect x="446.3" y="686.7" width="13.8" height="7" rx="1.3" fill="#2a2416" stroke="#aaa58f" stroke-width="1"/>
<rect x="447.3" y="687.7" width="3.6580000000000004" height="5" fill="#ecdca6"/><rect x="455.442" y="687.7" width="3.6580000000000004" height="5" fill="#ecdca6"/>
<rect x="450.958" y="687.7" width="4.484" height="5" fill="#6b4a1e"/>
<rect x="446.3" y="695.3" width="13.8" height="7" rx="1.3" fill="#2a2416" stroke="#aaa58f" stroke-width="1"/>
<rect x="447.3" y="696.3" width="3.6580000000000004" height="5" fill="#ecdca6"/><rect x="455.442" y="696.3" width="3.6580000000000004" height="5" fill="#ecdca6"/>
<rect x="450.958" y="696.3" width="4.484" height="5" fill="#6b4a1e"/>
<rect x="446.3" y="704" width="13.8" height="7" rx="1.3" fill="#2a2416" stroke="#aaa58f" stroke-width="1"/>
<rect x="447.3" y="705" width="3.6580000000000004" height="5" fill="#ecdca6"/><rect x="455.442" y="705" width="3.6580000000000004" height="5" fill="#ecdca6"/>
<rect x="450.958" y="705" width="4.484" height="5" fill="#3a3a3a"/>
<rect x="446.3" y="712.6" width="13.8" height="7" rx="1.3" fill="#2a2416" stroke="#aaa58f" stroke-width="1"/>
<rect x="447.3" y="713.6" width="3.6580000000000004" height="5" fill="#ecdca6"/><rect x="455.442" y="713.6" width="3.6580000000000004" height="5" fill="#ecdca6"/>
<rect x="450.958" y="713.6" width="4.484" height="5" fill="#3a3a3a"/>
<rect x="446.3" y="725.6" width="13.8" height="7" rx="1.3" fill="#2a2416" stroke="#aaa58f" stroke-width="1"/>
<rect x="447.3" y="726.6" width="3.6580000000000004" height="5" fill="#ecdca6"/><rect x="455.442" y="726.6" width="3.6580000000000004" height="5" fill="#ecdca6"/>
<rect x="450.958" y="726.6" width="4.484" height="5" fill="#6b4a1e"/>
<rect x="462.2" y="697" width="23.6" height="28.5" rx="1.5" fill="#d2d2d2"/>
<rect x="460.8" y="699" width="1.4" height="5" fill="#e4b33c"/><rect x="485.8" y="699" width="1.4" height="5" fill="#e4b33c"/><rect x="460.8" y="718" width="1.4" height="5" fill="#e4b33c"/><rect x="485.8" y="718" width="1.4" height="5" fill="#e4b33c"/>
<rect x="467.5" y="686.7" width="13.5" height="6.9" rx="1.3" fill="#2a2416" stroke="#aaa58f" stroke-width="1"/>
<rect x="468.5" y="687.7" width="3.565" height="4.9" fill="#ecdca6"/><rect x="476.435" y="687.7" width="3.565" height="4.9" fill="#ecdca6"/>
<rect x="472.065" y="687.7" width="4.37" height="4.9" fill="#6b4a1e"/>
<rect x="467.5" y="727.3" width="13.5" height="6.9" rx="1.3" fill="#2a2416" stroke="#aaa58f" stroke-width="1"/>
<rect x="468.5" y="728.3" width="3.565" height="4.9" fill="#ecdca6"/><rect x="476.435" y="728.3" width="3.565" height="4.9" fill="#ecdca6"/>
<rect x="472.065" y="728.3" width="4.37" height="4.9" fill="#6b4a1e"/>
<rect x="467.5" y="736.8" width="13.5" height="6.9" rx="1.3" fill="#2a2416" stroke="#aaa58f" stroke-width="1"/>
<rect x="468.5" y="737.8" width="3.565" height="4.9" fill="#ecdca6"/><rect x="476.435" y="737.8" width="3.565" height="4.9" fill="#ecdca6"/>
<rect x="472.065" y="737.8" width="4.37" height="4.9" fill="#3a3a3a"/>
<rect x="494.3" y="660.6" width="4" height="4" fill="#e4b33c"/>
<rect x="523.7" y="660.6" width="4" height="4" fill="#e4b33c"/>
<rect x="494.3" y="693.3" width="4" height="4" fill="#e4b33c"/>
<rect x="523.7" y="693.3" width="4" height="4" fill="#e4b33c"/>
<rect x="493.1" y="659.2" width="35.8" height="39.2" rx="13.5" fill="#4a4a4a"/>
<rect x="535" y="662.5" width="14.2" height="6.9" rx="1.3" fill="#2a2416" stroke="#aaa58f" stroke-width="1"/>
<rect x="536" y="663.5" width="3.7819999999999996" height="4.9" fill="#ecdca6"/><rect x="544.418" y="663.5" width="3.7819999999999996" height="4.9" fill="#ecdca6"/>
<rect x="539.782" y="663.5" width="4.636" height="4.9" fill="#6b4a1e"/>
<rect x="535" y="670.2" width="14.2" height="6.4" rx="1.3" fill="#2a2416" stroke="#aaa58f" stroke-width="1"/>
<rect x="536" y="671.2" width="3.7819999999999996" height="4.4" fill="#ecdca6"/><rect x="544.418" y="671.2" width="3.7819999999999996" height="4.4" fill="#ecdca6"/>
<rect x="539.782" y="671.2" width="4.636" height="4.4" fill="#6b4a1e"/>
<rect x="536.5" y="679.8" width="4" height="8.6" rx="0.8" fill="#e4b33c"/><rect x="536.5" y="701.4" width="4" height="8.6" rx="0.8" fill="#e4b33c"/>
<rect x="544.3" y="679.8" width="4" height="8.6" rx="0.8" fill="#e4b33c"/><rect x="544.3" y="701.4" width="4" height="8.6" rx="0.8" fill="#e4b33c"/>
<rect x="552.1" y="679.8" width="4" height="8.6" rx="0.8" fill="#e4b33c"/><rect x="552.1" y="701.4" width="4" height="8.6" rx="0.8" fill="#e4b33c"/>
<rect x="533.3" y="688.7" width="26.8" height="12.1" fill="#3a3a3a"/>
<rect x="562.4" y="695" width="7.6" height="14.1" rx="1.3" fill="#2a2416" stroke="#aaa58f" stroke-width="1"/>
<rect x="563.4" y="696" width="5.6" height="3.751" fill="#ecdca6"/><rect x="563.4" y="704.349" width="5.6" height="3.751" fill="#ecdca6"/>
<rect x="563.4" y="699.751" width="5.6" height="4.598" fill="#3a3a3a"/>
<rect x="494" y="704.5" width="6" height="8.5" rx="1" fill="#e4b33c"/><rect x="521.5" y="704.5" width="6" height="8.5" rx="1" fill="#e4b33c"/>
<rect x="498.4" y="702.2" width="24.6" height="13.8" fill="#4a4a4a"/>
<rect x="517.5" y="702.2" width="3" height="13.8" fill="#ffffff"/>
<text x="503" y="711.5" font-size="4.5" fill="#ccc">SS  SPS</text>
<rect x="514.5" y="720" width="7" height="14" rx="1.3" fill="#2a2416" stroke="#aaa58f" stroke-width="1"/>
<rect x="515.5" y="721" width="5" height="3.7199999999999998" fill="#ecdca6"/><rect x="515.5" y="729.28" width="5" height="3.7199999999999998" fill="#ecdca6"/>
<rect x="515.5" y="724.72" width="5" height="4.5600000000000005" fill="#6b4a1e"/>
<rect x="524.5" y="720" width="8" height="16" rx="1.3" fill="#2a2416" stroke="#aaa58f" stroke-width="1"/>
<rect x="525.5" y="721" width="6" height="4.34" fill="#ecdca6"/><rect x="525.5" y="730.66" width="6" height="4.34" fill="#ecdca6"/>
<rect x="525.5" y="725.34" width="6" height="5.32" fill="#6b4a1e"/>
<rect x="495.4" y="738.6" width="2.2" height="3.6" rx="0.8" fill="#d9c278"/><rect x="495.4" y="766.4" width="2.2" height="3.6" rx="0.8" fill="#d9c278"/>
<rect x="499.79999999999995" y="738.6" width="2.2" height="3.6" rx="0.8" fill="#d9c278"/><rect x="499.79999999999995" y="766.4" width="2.2" height="3.6" rx="0.8" fill="#d9c278"/>
<rect x="504.2" y="738.6" width="2.2" height="3.6" rx="0.8" fill="#d9c278"/><rect x="504.2" y="766.4" width="2.2" height="3.6" rx="0.8" fill="#d9c278"/>
<rect x="508.4" y="738.6" width="2.2" height="3.6" rx="0.8" fill="#d9c278"/><rect x="508.4" y="766.4" width="2.2" height="3.6" rx="0.8" fill="#d9c278"/>
<rect x="486.9" y="746.6" width="3.6" height="2.2" rx="0.8" fill="#d9c278"/><rect x="515.5" y="746.6" width="3.6" height="2.2" rx="0.8" fill="#d9c278"/>
<rect x="486.9" y="750.8" width="3.6" height="2.2" rx="0.8" fill="#d9c278"/><rect x="515.5" y="750.8" width="3.6" height="2.2" rx="0.8" fill="#d9c278"/>
<rect x="486.9" y="755.1999999999999" width="3.6" height="2.2" rx="0.8" fill="#d9c278"/><rect x="515.5" y="755.1999999999999" width="3.6" height="2.2" rx="0.8" fill="#d9c278"/>
<rect x="486.9" y="759.1" width="3.6" height="2.2" rx="0.8" fill="#d9c278"/><rect x="515.5" y="759.1" width="3.6" height="2.2" rx="0.8" fill="#d9c278"/>
<rect x="489.5" y="740.7" width="27" height="27" fill="#8c8c8c"/>
<path d="M490.2 746 V743.5 Q490.2 741.4 492.3 741.4 H494.5 M515.8 746 V743.5 Q515.8 741.4 513.7 741.4 H511.5 M490.2 762.4 V764.9 Q490.2 767 492.3 767 H494.5 M515.8 762.4 V764.9 Q515.8 767 513.7 767 H511.5" fill="none" stroke="#ececec" stroke-width="1.2"/>
<circle cx="487.2" cy="743.3" r="1.1" fill="#fff"/>
<defs><linearGradient id="spkg" x1="0" x2="0" y1="0" y2="1"><stop offset="0" stop-color="#e8e4dc"/><stop offset="0.5" stop-color="#c8c8c8"/><stop offset="1" stop-color="#b4b4b4"/></linearGradient><linearGradient id="spkg2" x1="0" x2="0" y1="1" y2="0"><stop offset="0" stop-color="#e8e4dc"/><stop offset="0.5" stop-color="#c8c8c8"/><stop offset="1" stop-color="#b4b4b4"/></linearGradient></defs>
<rect x="551.8" y="724.3" width="22.6" height="16.5" fill="#e4b33c"/><rect x="551.8" y="776.5" width="22.6" height="17.1" fill="#e4b33c"/>
<rect x="550.7" y="728.4" width="20.7" height="12.4" fill="#ddd5ca"/><rect x="556.6" y="729" width="13" height="11.5" fill="url(#spkg)"/>
<rect x="550.7" y="776.5" width="20.7" height="12.7" fill="#ddd5ca"/><rect x="556.6" y="777" width="13" height="11.5" fill="url(#spkg2)"/>
<path d="M544.4 741 H571 V754.3 H567 V762.4 H571 V776.5 H544.4 Z" fill="#ddd5ca"/>
<path d="M549.3 728 H539.4 V749.9 M549.5 789.2 H539.6 V777.3" fill="none" stroke="#fff" stroke-width="2"/>
<rect x="573.6" y="742.4" width="2.3" height="33.4" rx="1" fill="#ececec"/>
<rect x="534" y="751.3" width="10.4" height="5.2" fill="#e4b33c"/><rect x="534" y="761.7" width="10.4" height="5.2" fill="#e4b33c"/>
<circle cx="555.9" cy="753.9" r="0.9" fill="#b0a898"/><circle cx="555.9" cy="764.3" r="0.9" fill="#b0a898"/><circle cx="541.4" cy="759.1" r="1.1" fill="#fff"/>
<path d="M535.3 775 L538.8 770.6 L542.3 775 Z" fill="#fff" stroke="#fff" stroke-width="0.6" stroke-linejoin="round"/>
<rect x="525.5" y="753.1" width="6.6" height="1.6" fill="#e0e0e0"/><path d="M528.8 761.3 V768.4 M525.5 764.8 H532.1" stroke="#e0e0e0" stroke-width="1.5"/>
<text x="546.7" y="723" font-size="8.5" fill="#cfcfcf">SPK</text>
<text x="537.8" y="808.9" font-size="10" fill="#d8d8d8" textLength="25.9" lengthAdjust="spacingAndGlyphs">BOOT</text>
<rect x="525.9" y="812.4" width="5.8" height="5.4" fill="#e4b33c"/>
<rect x="568.9" y="812.4" width="5.8" height="5.4" fill="#e4b33c"/>
<rect x="525.9" y="830.2" width="5.8" height="5.4" fill="#e4b33c"/>
<rect x="568.9" y="830.2" width="5.8" height="5.4" fill="#e4b33c"/>
<rect x="531.9" y="809.5" width="37" height="28.1" fill="#c9c9c9"/>
<ellipse cx="550.4" cy="823.5" rx="11.9" ry="8.1" fill="#f4f4f4"/>
<rect x="525.9" y="859.6" width="5.8" height="5.4" fill="#e4b33c"/>
<rect x="568.9" y="859.6" width="5.8" height="5.4" fill="#e4b33c"/>
<rect x="525.9" y="877.4000000000001" width="5.8" height="5.4" fill="#e4b33c"/>
<rect x="568.9" y="877.4000000000001" width="5.8" height="5.4" fill="#e4b33c"/>
<rect x="531.9" y="856.7" width="37" height="28.1" fill="#c9c9c9"/>
<ellipse cx="550.4" cy="870.7" rx="11.9" ry="8.1" fill="#f4f4f4"/>
<text x="540" y="893.7" font-size="9" fill="#d0d0d0" textLength="17" lengthAdjust="spacingAndGlyphs">RST</text>
<rect x="535.6" y="839.6" width="14.8" height="7.6" rx="1.3" fill="#2a2416" stroke="#aaa58f" stroke-width="1"/>
<rect x="536.6" y="840.6" width="3.968" height="5.6" fill="#ecdca6"/><rect x="545.432" y="840.6" width="3.968" height="5.6" fill="#ecdca6"/>
<rect x="540.568" y="840.6" width="4.864000000000001" height="5.6" fill="#3a3a3a"/>
<rect x="535.6" y="847.4" width="14.8" height="7.6" rx="1.3" fill="#2a2416" stroke="#aaa58f" stroke-width="1"/>
<rect x="536.6" y="848.4" width="3.968" height="5.6" fill="#ecdca6"/><rect x="545.432" y="848.4" width="3.968" height="5.6" fill="#ecdca6"/>
<rect x="540.568" y="848.4" width="4.864000000000001" height="5.6" fill="#6b4a1e"/>
<rect x="551.2" y="839.6" width="14.8" height="7.6" rx="1.3" fill="#2a2416" stroke="#aaa58f" stroke-width="1"/>
<rect x="552.2" y="840.6" width="3.968" height="5.6" fill="#ecdca6"/><rect x="561.032" y="840.6" width="3.968" height="5.6" fill="#ecdca6"/>
<rect x="556.168" y="840.6" width="4.864000000000001" height="5.6" fill="#3a3a3a"/>
<rect x="551.2" y="847.4" width="14.8" height="7.6" rx="1.3" fill="#2a2416" stroke="#aaa58f" stroke-width="1"/>
<rect x="552.2" y="848.4" width="3.968" height="5.6" fill="#ecdca6"/><rect x="561.032" y="848.4" width="3.968" height="5.6" fill="#ecdca6"/>
<rect x="556.168" y="848.4" width="4.864000000000001" height="5.6" fill="#6b4a1e"/>
<rect x="302" y="758.3" width="51.5" height="44.5" fill="#8d8d8d"/>
<rect x="302" y="800.5" width="51.5" height="2.3" fill="#bdbdbd"/><rect x="302" y="758.3" width="51.5" height="1.5" fill="#a8a8a8"/>
<rect x="296" y="762.1999999999999" width="6.5" height="4.4" rx="2.2" fill="#e4b33c"/><rect x="353" y="762.1999999999999" width="6.5" height="4.4" rx="2.2" fill="#e4b33c"/>
<rect x="296" y="772.8" width="6.5" height="4.4" rx="2.2" fill="#e4b33c"/><rect x="353" y="772.8" width="6.5" height="4.4" rx="2.2" fill="#e4b33c"/>
<rect x="296" y="783.4" width="6.5" height="4.4" rx="2.2" fill="#e4b33c"/><rect x="353" y="783.4" width="6.5" height="4.4" rx="2.2" fill="#e4b33c"/>
<rect x="296" y="794.0999999999999" width="6.5" height="4.4" rx="2.2" fill="#e4b33c"/><rect x="353" y="794.0999999999999" width="6.5" height="4.4" rx="2.2" fill="#e4b33c"/>
<circle cx="302.5" cy="756" r="1.1" fill="#fff"/>
<rect x="230.7" y="771" width="9" height="15" rx="4" fill="#e4b33c"/><rect x="273.6" y="771" width="9" height="15" rx="4" fill="#e4b33c"/>
<rect x="233.5" y="773" width="3.4" height="11" rx="1.5" fill="#f2e6b8"/><rect x="276.5" y="773" width="3.4" height="11" rx="1.5" fill="#f2e6b8"/>
<rect x="236.4" y="766.5" width="39.7" height="23" fill="#888888"/>
<rect x="272.5" y="766.5" width="3.6" height="23" fill="#9a9a9a"/><rect x="271.2" y="766.5" width="1.6" height="23" fill="#2a2a2a"/>
<rect x="285.4" y="765.7" width="7" height="12.1" rx="1.3" fill="#2a2416" stroke="#aaa58f" stroke-width="1"/>
<rect x="286.4" y="766.7" width="5" height="3.131" fill="#ecdca6"/><rect x="286.4" y="773.6690000000001" width="5" height="3.131" fill="#ecdca6"/>
<rect x="286.4" y="769.831" width="5" height="3.838" fill="#6b4a1e"/>
<rect x="224" y="803.7" width="62.3" height="63.9" fill="#8ef08c"/>
<rect x="224" y="803.7" width="15" height="63.9" fill="#62c56b"/><rect x="273.9" y="803.7" width="12.4" height="63.9" fill="#62c56b"/>
<circle cx="256.7" cy="820" r="13.3" fill="#c8c8c8"/><circle cx="256.7" cy="851.9" r="13.3" fill="#c8c8c8"/>
<rect x="259.6" y="806.7" width="1.6" height="58" fill="#a8a8a8"/>
<text x="286.5" y="824" font-size="13" fill="#e0e0e0">+</text><text x="287" y="855" font-size="13" fill="#e0e0e0">−</text>
<rect x="302.0" y="805.2" width="14.8" height="9" rx="3.5" fill="#e4b33c"/><rect x="302.0" y="848.4" width="14.8" height="9" rx="3.5" fill="#e4b33c"/>
<rect x="297.2" y="811.9" width="24.1" height="39.2" fill="#8e8e8e"/><rect x="297.2" y="811.9" width="24.1" height="4" fill="#a2a2a2"/><rect x="297.2" y="815.9" width="24.1" height="1.9" fill="#151515"/>
<rect x="329.40000000000003" y="805.2" width="14.8" height="9" rx="3.5" fill="#e4b33c"/><rect x="329.40000000000003" y="848.4" width="14.8" height="9" rx="3.5" fill="#e4b33c"/>
<rect x="324.6" y="811.9" width="24.1" height="39.2" fill="#8e8e8e"/><rect x="324.6" y="811.9" width="24.1" height="4" fill="#a2a2a2"/><rect x="324.6" y="815.9" width="24.1" height="1.9" fill="#151515"/>
<text x="230.7" y="879.6" font-size="11.5" fill="#d6d6d6" textLength="50" lengthAdjust="spacingAndGlyphs">Power IN</text>
<text x="230.7" y="891.1" font-size="11.5" fill="#d6d6d6" textLength="31.5" lengthAdjust="spacingAndGlyphs">5-12V</text>
<rect x="375.2" y="763" width="4" height="4" fill="#e4b33c"/>
<rect x="408.1" y="763" width="4" height="4" fill="#e4b33c"/>
<rect x="375.2" y="792.5" width="4" height="4" fill="#e4b33c"/>
<rect x="408.1" y="792.5" width="4" height="4" fill="#e4b33c"/>
<rect x="374.2" y="761.6" width="38.9" height="36.3" rx="13.5" fill="#474747"/>
<rect x="375.9" y="803" width="35.5" height="26.9" fill="#3f3f3f"/>
<rect x="375.9" y="803.5" width="1" height="22" fill="#e8e8e8"/>
<rect x="411.3" y="809" width="1.4" height="1.6" fill="#e4b33c"/>
<rect x="411.3" y="814" width="1.4" height="1.6" fill="#e4b33c"/>
<rect x="411.3" y="819" width="1.4" height="1.6" fill="#e4b33c"/>
<rect x="411.3" y="824" width="1.4" height="1.6" fill="#e4b33c"/>
<rect x="363.8" y="776.3" width="7.8" height="14.7" rx="1.3" fill="#2a2416" stroke="#aaa58f" stroke-width="1"/>
<rect x="364.8" y="777.3" width="5.8" height="3.937" fill="#ecdca6"/><rect x="364.8" y="786.063" width="5.8" height="3.937" fill="#ecdca6"/>
<rect x="364.8" y="781.237" width="5.8" height="4.826" fill="#6b4a1e"/>
<rect x="363.8" y="804" width="7.8" height="14.6" rx="1.3" fill="#2a2416" stroke="#aaa58f" stroke-width="1"/>
<rect x="364.8" y="805" width="5.8" height="3.9059999999999997" fill="#ecdca6"/><rect x="364.8" y="813.6940000000001" width="5.8" height="3.9059999999999997" fill="#ecdca6"/>
<rect x="364.8" y="808.906" width="5.8" height="4.788" fill="#6b4a1e"/>
<rect x="418.3" y="776.3" width="7.7" height="14.7" rx="1.3" fill="#2a2416" stroke="#aaa58f" stroke-width="1"/>
<rect x="419.3" y="777.3" width="5.7" height="3.937" fill="#ecdca6"/><rect x="419.3" y="786.063" width="5.7" height="3.937" fill="#ecdca6"/>
<rect x="419.3" y="781.237" width="5.7" height="4.826" fill="#6b4a1e"/>
<rect x="418.3" y="791.5" width="14" height="6.8" rx="1.3" fill="#2a2416" stroke="#aaa58f" stroke-width="1"/>
<rect x="419.3" y="792.5" width="3.7199999999999998" height="4.8" fill="#ecdca6"/><rect x="427.58" y="792.5" width="3.7199999999999998" height="4.8" fill="#ecdca6"/>
<rect x="423.02000000000004" y="792.5" width="4.5600000000000005" height="4.8" fill="#3a3a3a"/>
<rect x="418.3" y="799.5" width="7" height="14" rx="1.3" fill="#2a2416" stroke="#aaa58f" stroke-width="1"/>
<rect x="419.3" y="800.5" width="5" height="3.7199999999999998" fill="#ecdca6"/><rect x="419.3" y="808.78" width="5" height="3.7199999999999998" fill="#ecdca6"/>
<rect x="419.3" y="804.22" width="5" height="4.5600000000000005" fill="#6b4a1e"/>
<rect x="426" y="799.5" width="7" height="14" rx="1.3" fill="#2a2416" stroke="#aaa58f" stroke-width="1"/>
<rect x="427" y="800.5" width="5" height="3.7199999999999998" fill="#ecdca6"/><rect x="427" y="808.78" width="5" height="3.7199999999999998" fill="#ecdca6"/>
<rect x="427" y="804.22" width="5" height="4.5600000000000005" fill="#3a3a3a"/>
<rect x="418.3" y="814.5" width="7" height="14" rx="1.3" fill="#2a2416" stroke="#aaa58f" stroke-width="1"/>
<rect x="419.3" y="815.5" width="5" height="3.7199999999999998" fill="#ecdca6"/><rect x="419.3" y="823.78" width="5" height="3.7199999999999998" fill="#ecdca6"/>
<rect x="419.3" y="819.22" width="5" height="4.5600000000000005" fill="#3a3a3a"/>
<rect x="426" y="814.5" width="14" height="6.8" rx="1.3" fill="#2a2416" stroke="#aaa58f" stroke-width="1"/>
<rect x="427" y="815.5" width="3.7199999999999998" height="4.8" fill="#ecdca6"/><rect x="435.28" y="815.5" width="3.7199999999999998" height="4.8" fill="#ecdca6"/>
<rect x="430.72" y="815.5" width="4.5600000000000005" height="4.8" fill="#3a3a3a"/>
<rect x="426" y="822.5" width="14" height="7.2" rx="1.3" fill="#2a2416" stroke="#aaa58f" stroke-width="1"/>
<rect x="427" y="823.5" width="3.7199999999999998" height="5.2" fill="#ecdca6"/><rect x="435.28" y="823.5" width="3.7199999999999998" height="5.2" fill="#ecdca6"/>
<rect x="430.72" y="823.5" width="4.5600000000000005" height="5.2" fill="#6b4a1e"/>
<rect x="367.3" y="835.9" width="7.6" height="18.2" rx="1.3" fill="#2a2416" stroke="#aaa58f" stroke-width="1"/>
<rect x="368.3" y="836.9" width="5.6" height="5.021999999999999" fill="#ecdca6"/><rect x="368.3" y="848.078" width="5.6" height="5.021999999999999" fill="#ecdca6"/>
<rect x="368.3" y="841.922" width="5.6" height="6.156000000000001" fill="#6b4a1e"/>
<rect x="376.8" y="835.9" width="7.6" height="18.2" rx="1.3" fill="#2a2416" stroke="#aaa58f" stroke-width="1"/>
<rect x="377.8" y="836.9" width="5.6" height="5.021999999999999" fill="#ecdca6"/><rect x="377.8" y="848.078" width="5.6" height="5.021999999999999" fill="#ecdca6"/>
<rect x="377.8" y="841.922" width="5.6" height="6.156000000000001" fill="#6b4a1e"/>
<rect x="385.4" y="835.9" width="7.6" height="18.2" rx="1.3" fill="#2a2416" stroke="#aaa58f" stroke-width="1"/>
<rect x="386.4" y="836.9" width="5.6" height="5.021999999999999" fill="#ecdca6"/><rect x="386.4" y="848.078" width="5.6" height="5.021999999999999" fill="#ecdca6"/>
<rect x="386.4" y="841.922" width="5.6" height="6.156000000000001" fill="#3a3a3a"/>
<rect x="401.8" y="837.6" width="7.4" height="14.7" rx="1.3" fill="#2a2416" stroke="#aaa58f" stroke-width="1"/>
<rect x="402.8" y="838.6" width="5.4" height="3.937" fill="#ecdca6"/><rect x="402.8" y="847.363" width="5.4" height="3.937" fill="#ecdca6"/>
<rect x="402.8" y="842.537" width="5.4" height="4.826" fill="#6b4a1e"/>
<rect x="410.5" y="837.6" width="7.4" height="14.7" rx="1.3" fill="#2a2416" stroke="#aaa58f" stroke-width="1"/>
<rect x="411.5" y="838.6" width="5.4" height="3.937" fill="#ecdca6"/><rect x="411.5" y="847.363" width="5.4" height="3.937" fill="#ecdca6"/>
<rect x="411.5" y="842.537" width="5.4" height="4.826" fill="#6b4a1e"/>
<rect x="419.1" y="837.6" width="7.4" height="14.7" rx="1.3" fill="#2a2416" stroke="#aaa58f" stroke-width="1"/>
<rect x="420.1" y="838.6" width="5.4" height="3.937" fill="#ecdca6"/><rect x="420.1" y="847.363" width="5.4" height="3.937" fill="#ecdca6"/>
<rect x="420.1" y="842.537" width="5.4" height="4.826" fill="#6b4a1e"/>
<rect x="447.7" y="760" width="5" height="4.5" rx="1" fill="#e4b33c"/><rect x="447.7" y="780.5" width="5" height="4.5" rx="1" fill="#e4b33c"/>
<rect x="444.2" y="764.2" width="12.1" height="18.1" fill="#2d2d2d" stroke="#cfcfcf" stroke-width="0.8"/>
<rect x="434.7" y="766.8" width="7.8" height="14.7" rx="1.3" fill="#2a2416" stroke="#aaa58f" stroke-width="1"/>
<rect x="435.7" y="767.8" width="5.8" height="3.937" fill="#ecdca6"/><rect x="435.7" y="776.563" width="5.8" height="3.937" fill="#ecdca6"/>
<rect x="435.7" y="771.737" width="5.8" height="4.826" fill="#3a3a3a"/>
<rect x="458.9" y="766.8" width="7.8" height="14.7" rx="1.3" fill="#2a2416" stroke="#aaa58f" stroke-width="1"/>
<rect x="459.9" y="767.8" width="5.8" height="3.937" fill="#ecdca6"/><rect x="459.9" y="776.563" width="5.8" height="3.937" fill="#ecdca6"/>
<rect x="459.9" y="771.737" width="5.8" height="4.826" fill="#3a3a3a"/>
<rect x="467.5" y="766.8" width="7.8" height="14.7" rx="1.3" fill="#2a2416" stroke="#aaa58f" stroke-width="1"/>
<rect x="468.5" y="767.8" width="5.8" height="3.937" fill="#ecdca6"/><rect x="468.5" y="776.563" width="5.8" height="3.937" fill="#ecdca6"/>
<rect x="468.5" y="771.737" width="5.8" height="4.826" fill="#3a3a3a"/>
<rect x="458.4" y="793.8" width="14.3" height="7.6" rx="1.3" fill="#2a2416" stroke="#aaa58f" stroke-width="1"/>
<rect x="459.4" y="794.8" width="3.813" height="5.6" fill="#ecdca6"/><rect x="467.887" y="794.8" width="3.813" height="5.6" fill="#ecdca6"/>
<rect x="463.21299999999997" y="794.8" width="4.674" height="5.6" fill="#6b4a1e"/>
<rect x="458.4" y="801.8" width="14.3" height="7.8" rx="1.3" fill="#2a2416" stroke="#aaa58f" stroke-width="1"/>
<rect x="459.4" y="802.8" width="3.813" height="5.8" fill="#ecdca6"/><rect x="467.887" y="802.8" width="3.813" height="5.8" fill="#ecdca6"/>
<rect x="463.21299999999997" y="802.8" width="4.674" height="5.8" fill="#6b4a1e"/>
<rect x="451.79999999999995" y="811.4" width="7.6" height="6.8" rx="1.2" fill="#e4b33c"/><rect x="451.79999999999995" y="827.4" width="7.6" height="7" rx="1.2" fill="#e4b33c"/>
<rect x="469.0" y="819" width="8.8" height="7.2" rx="1.2" fill="#e4b33c"/>
<rect x="459.4" y="810.7" width="10.6" height="24.2" fill="#3a3a3a"/>
<rect x="487.59999999999997" y="811.4" width="7.6" height="6.8" rx="1.2" fill="#e4b33c"/><rect x="487.59999999999997" y="827.4" width="7.6" height="7" rx="1.2" fill="#e4b33c"/>
<rect x="504.8" y="819" width="8.8" height="7.2" rx="1.2" fill="#e4b33c"/>
<rect x="495.2" y="810.7" width="10.6" height="24.2" fill="#3a3a3a"/>
<rect x="456.4" y="836.3" width="14.3" height="7.6" rx="1.3" fill="#2a2416" stroke="#aaa58f" stroke-width="1"/>
<rect x="457.4" y="837.3" width="3.813" height="5.6" fill="#ecdca6"/><rect x="465.887" y="837.3" width="3.813" height="5.6" fill="#ecdca6"/>
<rect x="461.21299999999997" y="837.3" width="4.674" height="5.6" fill="#6b4a1e"/>
<rect x="456.4" y="844.6" width="14.3" height="7.6" rx="1.3" fill="#2a2416" stroke="#aaa58f" stroke-width="1"/>
<rect x="457.4" y="845.6" width="3.813" height="5.6" fill="#ecdca6"/><rect x="465.887" y="845.6" width="3.813" height="5.6" fill="#ecdca6"/>
<rect x="461.21299999999997" y="845.6" width="4.674" height="5.6" fill="#6b4a1e"/>
<rect x="491.8" y="836.3" width="14.3" height="7.8" rx="1.3" fill="#2a2416" stroke="#aaa58f" stroke-width="1"/>
<rect x="492.8" y="837.3" width="3.813" height="5.8" fill="#ecdca6"/><rect x="501.28700000000003" y="837.3" width="3.813" height="5.8" fill="#ecdca6"/>
<rect x="496.613" y="837.3" width="4.674" height="5.8" fill="#6b4a1e"/>
<rect x="491.8" y="844.5" width="14.3" height="7.8" rx="1.3" fill="#2a2416" stroke="#aaa58f" stroke-width="1"/>
<rect x="492.8" y="845.5" width="3.813" height="5.8" fill="#ecdca6"/><rect x="501.28700000000003" y="845.5" width="3.813" height="5.8" fill="#ecdca6"/>
<rect x="496.613" y="845.5" width="4.674" height="5.8" fill="#6b4a1e"/>
<rect x="494.2" y="773.7" width="14.8" height="8" rx="1.3" fill="#2a2416" stroke="#aaa58f" stroke-width="1"/>
<rect x="495.2" y="774.7" width="3.968" height="6" fill="#ecdca6"/><rect x="504.032" y="774.7" width="3.968" height="6" fill="#ecdca6"/>
<rect x="499.168" y="774.7" width="4.864000000000001" height="6" fill="#6b4a1e"/>
<rect x="494.2" y="782.1" width="14.8" height="8" rx="1.3" fill="#2a2416" stroke="#aaa58f" stroke-width="1"/>
<rect x="495.2" y="783.1" width="3.968" height="6" fill="#ecdca6"/><rect x="504.032" y="783.1" width="3.968" height="6" fill="#ecdca6"/>
<rect x="499.168" y="783.1" width="4.864000000000001" height="6" fill="#6b4a1e"/>
<rect x="494.2" y="794" width="14.8" height="8" rx="1.3" fill="#2a2416" stroke="#aaa58f" stroke-width="1"/>
<rect x="495.2" y="795" width="3.968" height="6" fill="#ecdca6"/><rect x="504.032" y="795" width="3.968" height="6" fill="#ecdca6"/>
<rect x="499.168" y="795" width="4.864000000000001" height="6" fill="#6b4a1e"/>
<rect x="494.2" y="802.3" width="14.8" height="7.6" rx="1.3" fill="#2a2416" stroke="#aaa58f" stroke-width="1"/>
<rect x="495.2" y="803.3" width="3.968" height="5.6" fill="#ecdca6"/><rect x="504.032" y="803.3" width="3.968" height="5.6" fill="#ecdca6"/>
<rect x="499.168" y="803.3" width="4.864000000000001" height="5.6" fill="#6b4a1e"/>
<rect x="311.90" y="880" width="3.4" height="8.5" fill="#e4b33c"/><rect x="311.90" y="884.5" width="3.4" height="4" fill="#f0e2b0"/>
<rect x="319.20" y="880" width="3.2" height="8.5" fill="#e4b33c"/><rect x="319.20" y="884.5" width="3.2" height="4" fill="#f0e2b0"/>
<rect x="326.20" y="880" width="2.4" height="8.5" fill="#e4b33c"/><rect x="326.20" y="884.5" width="2.4" height="4" fill="#f0e2b0"/>
<rect x="331.30" y="880" width="2.2" height="8.5" fill="#e4b33c"/><rect x="331.30" y="884.5" width="2.2" height="4" fill="#f0e2b0"/>
<rect x="335.30" y="880" width="2.2" height="8.5" fill="#e4b33c"/><rect x="335.30" y="884.5" width="2.2" height="4" fill="#f0e2b0"/>
<rect x="339.50" y="880" width="2.2" height="8.5" fill="#e4b33c"/><rect x="339.50" y="884.5" width="2.2" height="4" fill="#f0e2b0"/>
<rect x="343.60" y="880" width="2.2" height="8.5" fill="#e4b33c"/><rect x="343.60" y="884.5" width="2.2" height="4" fill="#f0e2b0"/>
<rect x="347.90" y="880" width="2.2" height="8.5" fill="#e4b33c"/><rect x="347.90" y="884.5" width="2.2" height="4" fill="#f0e2b0"/>
<rect x="352.30" y="880" width="2.2" height="8.5" fill="#e4b33c"/><rect x="352.30" y="884.5" width="2.2" height="4" fill="#f0e2b0"/>
<rect x="356.80" y="880" width="2.4" height="8.5" fill="#e4b33c"/><rect x="356.80" y="884.5" width="2.4" height="4" fill="#f0e2b0"/>
<rect x="361.60" y="880" width="3.2" height="8.5" fill="#e4b33c"/><rect x="361.60" y="884.5" width="3.2" height="4" fill="#f0e2b0"/>
<rect x="367.90" y="880" width="3.4" height="8.5" fill="#e4b33c"/><rect x="367.90" y="884.5" width="3.4" height="4" fill="#f0e2b0"/>
<rect x="301.6" y="883.9" width="6" height="16" rx="3" fill="none" stroke="#c9ad55" stroke-width="1.6"/><rect x="301.6" y="922.2" width="6" height="11.7" rx="3" fill="none" stroke="#c9ad55" stroke-width="1.6"/>
<rect x="375.4" y="883.9" width="6" height="16" rx="3" fill="none" stroke="#c9ad55" stroke-width="1.6"/><rect x="375.4" y="922.2" width="6" height="11.7" rx="3" fill="none" stroke="#c9ad55" stroke-width="1.6"/>
<defs><linearGradient id="usbg" x1="0" x2="1" y1="0" y2="0"><stop offset="0" stop-color="#dedede"/><stop offset="0.12" stop-color="#fbfbfb"/><stop offset="1" stop-color="#fdfdfd"/></linearGradient></defs>
<rect x="304.1" y="887.8" width="74.8" height="62.8" fill="url(#usbg)"/>
<text x="326.3" y="872.2" font-size="7" fill="#e0e0e0" textLength="30" lengthAdjust="spacingAndGlyphs">T TT T</text>
<path d="M399.6 885.6 H407 V905.6 H494.6 V885.6 H502 V951 H399.6 Z" fill="#dcdcdc"/>
<rect x="421" y="875.4" width="9" height="30.2" fill="#c9aa4e"/><rect x="422" y="877" width="7" height="28.6" fill="#8d8c86"/>
<rect x="438" y="875.4" width="9" height="30.2" fill="#c9aa4e"/><rect x="439" y="877" width="7" height="28.6" fill="#8d8c86"/>
<rect x="454.8" y="875.4" width="9" height="30.2" fill="#c9aa4e"/><rect x="455.8" y="877" width="7" height="28.6" fill="#8d8c86"/>
<rect x="471.5" y="875.4" width="9" height="30.2" fill="#c9aa4e"/><rect x="472.5" y="877" width="7" height="28.6" fill="#8d8c86"/>
<text transform="translate(421.8,853) rotate(90)" font-size="10.5" fill="#dcdcdc" textLength="21" lengthAdjust="spacingAndGlyphs">43/T</text>
<text transform="translate(438.6,853) rotate(90)" font-size="10.5" fill="#dcdcdc" textLength="21" lengthAdjust="spacingAndGlyphs">44/R</text>
<rect x="458.6" y="866" width="1.4" height="6.8" fill="#dcdcdc"/>
<path d="M476.5 866.2 V873.6 M472.8 869.9 H480.2" stroke="#dcdcdc" stroke-width="1.3"/>
<text x="401.9" y="548.4" font-size="15.9" fill="#2e2e2e" stroke="#2e2e2e" stroke-width="0.25" text-anchor="middle" textLength="75.8" lengthAdjust="spacingAndGlyphs">ESP32-S3</text>
<rect x="401.75" y="555" width="2.1" height="144.60000000000002" fill="#dc8f5c"/>
<text x="179.2" y="712" font-size="15.9" fill="#2e2e2e" stroke="#2e2e2e" stroke-width="0.25" text-anchor="end" textLength="22.5" lengthAdjust="spacingAndGlyphs">SD</text>
<rect x="183" y="703.95" width="121" height="2.5" fill="#dc8f5c"/>
<text x="179.5" y="785.2" font-size="15.9" fill="#2e2e2e" stroke="#2e2e2e" stroke-width="0.25" text-anchor="end" textLength="39.6" lengthAdjust="spacingAndGlyphs">Flash</text>
<rect x="182.6" y="779.05" width="145.4" height="2.5" fill="#dc8f5c"/>
<text x="178" y="842.3" font-size="15.9" fill="#2e2e2e" stroke="#2e2e2e" stroke-width="0.25" text-anchor="end" textLength="27.8" lengthAdjust="spacingAndGlyphs">VIN</text>
<rect x="184" y="835.45" width="70" height="2.5" fill="#dc8f5c"/>
<text x="182" y="880.1" font-size="15.9" fill="#2e2e2e" stroke="#2e2e2e" stroke-width="0.25" text-anchor="end" textLength="63.5" lengthAdjust="spacingAndGlyphs">HM6245</text>
<rect x="185" y="872.45" width="212.3" height="2.5" fill="#dc8f5c"/>
<rect x="394.75" y="817.8" width="2.5" height="57.200000000000045" fill="#dc8f5c"/>
<text x="609.5" y="721.8" font-size="15.9" fill="#2e2e2e" stroke="#2e2e2e" stroke-width="0.25" text-anchor="start" textLength="82.5" lengthAdjust="spacingAndGlyphs">MAX98357</text>
<rect x="503.8" y="714.75" width="102.19999999999999" height="2.5" fill="#dc8f5c"/>
<rect x="503.85" y="714.7" width="2.5" height="36.89999999999998" fill="#dc8f5c"/>
<text x="609.5" y="765" font-size="15.9" fill="#2e2e2e" stroke="#2e2e2e" stroke-width="0.25" text-anchor="start" textLength="30.5" lengthAdjust="spacingAndGlyphs">SPK</text>
<rect x="552.6" y="758.15" width="53.39999999999998" height="2.5" fill="#dc8f5c"/>
<text x="610.2" y="829" font-size="15.9" fill="#2e2e2e" stroke="#2e2e2e" stroke-width="0.25" text-anchor="start" textLength="44.5" lengthAdjust="spacingAndGlyphs">BOOT</text>
<rect x="549" y="821.85" width="57" height="2.5" fill="#dc8f5c"/>
<text x="610.7" y="875.8" font-size="15.9" fill="#2e2e2e" stroke="#2e2e2e" stroke-width="0.25" text-anchor="start" textLength="31" lengthAdjust="spacingAndGlyphs">RST</text>
<rect x="552.6" y="869.05" width="57.0" height="2.5" fill="#dc8f5c"/>
<text x="339.5" y="996.2" font-size="15.9" fill="#2e2e2e" stroke="#2e2e2e" stroke-width="0.25" text-anchor="middle" textLength="54" lengthAdjust="spacingAndGlyphs">Type-C</text>
<rect x="339.65" y="920.3" width="2.1" height="57.30000000000007" fill="#f09a66"/>
<text x="450.3" y="996" font-size="15.9" fill="#2e2e2e" stroke="#2e2e2e" stroke-width="0.25" text-anchor="middle" textLength="55.2" lengthAdjust="spacingAndGlyphs">Gravity</text>
<rect x="447.95" y="919.8" width="1.9" height="58.200000000000045" fill="#f0a070"/>
</svg></body></html>
